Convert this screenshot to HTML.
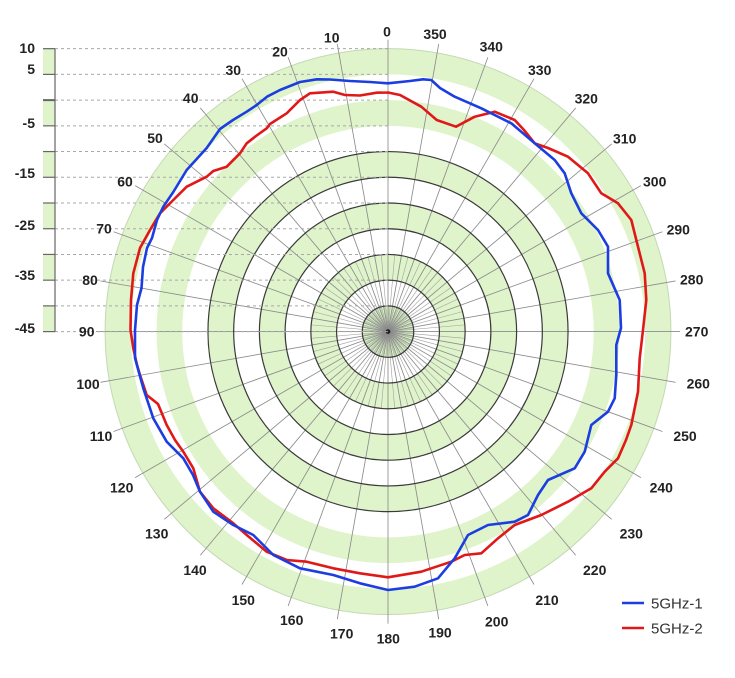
<!DOCTYPE html>
<html>
<head>
<meta charset="utf-8">
<style>
  html,body{margin:0;padding:0;background:#ffffff;}
  svg{display:block;}
  .lbl{font-family:"Liberation Sans",Arial,sans-serif;font-weight:bold;font-size:14px;fill:#222;text-anchor:middle;}
  .ax{font-family:"Liberation Sans",Arial,sans-serif;font-weight:bold;font-size:14px;fill:#222;text-anchor:end;}
  .leg{font-family:"Liberation Sans",Arial,sans-serif;font-size:15px;fill:#333;}
</style>
</head>
<body>
<svg width="735" height="678" viewBox="0 0 735 678" xmlns="http://www.w3.org/2000/svg">
  <rect x="0" y="0" width="735" height="678" fill="#ffffff"/>

  <!-- left axis green blocks -->
  <g fill="#dff4cb">
    <rect x="43" y="48.68" width="12" height="25.72"/>
    <rect x="43" y="100.12" width="12" height="25.72"/>
    <rect x="43" y="151.56" width="12" height="25.72"/>
    <rect x="43" y="203.0" width="12" height="25.72"/>
    <rect x="43" y="254.44" width="12" height="25.72"/>
    <rect x="43" y="305.88" width="12" height="25.72"/>
  </g>

  <!-- polar bands -->
  <g transform="translate(388,331.6)">
    <circle r="282.92" fill="#dff4cb" stroke="#c3d9b3" stroke-width="1"/>
    <circle r="257.2" fill="#ffffff"/>
    <circle r="231.48" fill="#dff4cb"/>
    <circle r="205.76" fill="#ffffff"/>
    <circle r="180.04" fill="#dff4cb"/>
    <circle r="154.32" fill="#ffffff"/>
    <circle r="128.6" fill="#dff4cb"/>
    <circle r="102.88" fill="#ffffff"/>
    <circle r="77.16" fill="#dff4cb"/>
    <circle r="51.44" fill="#ffffff"/>
    <circle r="25.72" fill="#dff4cb"/>

    <!-- dense inner spokes -->
    <g stroke="#98c084" stroke-width="0.45">
      <line x1="0" y1="-25.72" x2="0" y2="25.72" transform="rotate(2.5)"/>
      <line x1="0" y1="-25.72" x2="0" y2="25.72" transform="rotate(12.5)"/>
      <line x1="0" y1="-25.72" x2="0" y2="25.72" transform="rotate(22.5)"/>
      <line x1="0" y1="-25.72" x2="0" y2="25.72" transform="rotate(32.5)"/>
      <line x1="0" y1="-25.72" x2="0" y2="25.72" transform="rotate(42.5)"/>
      <line x1="0" y1="-25.72" x2="0" y2="25.72" transform="rotate(52.5)"/>
      <line x1="0" y1="-25.72" x2="0" y2="25.72" transform="rotate(62.5)"/>
      <line x1="0" y1="-25.72" x2="0" y2="25.72" transform="rotate(72.5)"/>
      <line x1="0" y1="-25.72" x2="0" y2="25.72" transform="rotate(82.5)"/>
      <line x1="0" y1="-25.72" x2="0" y2="25.72" transform="rotate(92.5)"/>
      <line x1="0" y1="-25.72" x2="0" y2="25.72" transform="rotate(102.5)"/>
      <line x1="0" y1="-25.72" x2="0" y2="25.72" transform="rotate(112.5)"/>
      <line x1="0" y1="-25.72" x2="0" y2="25.72" transform="rotate(122.5)"/>
      <line x1="0" y1="-25.72" x2="0" y2="25.72" transform="rotate(132.5)"/>
      <line x1="0" y1="-25.72" x2="0" y2="25.72" transform="rotate(142.5)"/>
      <line x1="0" y1="-25.72" x2="0" y2="25.72" transform="rotate(152.5)"/>
      <line x1="0" y1="-25.72" x2="0" y2="25.72" transform="rotate(162.5)"/>
      <line x1="0" y1="-25.72" x2="0" y2="25.72" transform="rotate(172.5)"/>
    </g>
    <!-- 5 degree spokes in inner rings -->
    <g stroke="#a0a0a0" stroke-width="0.6">
      <line x1="0" y1="-77.16" x2="0" y2="77.16" transform="rotate(5)"/>
      <line x1="0" y1="-77.16" x2="0" y2="77.16" transform="rotate(15)"/>
      <line x1="0" y1="-77.16" x2="0" y2="77.16" transform="rotate(25)"/>
      <line x1="0" y1="-77.16" x2="0" y2="77.16" transform="rotate(35)"/>
      <line x1="0" y1="-77.16" x2="0" y2="77.16" transform="rotate(45)"/>
      <line x1="0" y1="-77.16" x2="0" y2="77.16" transform="rotate(55)"/>
      <line x1="0" y1="-77.16" x2="0" y2="77.16" transform="rotate(65)"/>
      <line x1="0" y1="-77.16" x2="0" y2="77.16" transform="rotate(75)"/>
      <line x1="0" y1="-77.16" x2="0" y2="77.16" transform="rotate(85)"/>
      <line x1="0" y1="-77.16" x2="0" y2="77.16" transform="rotate(95)"/>
      <line x1="0" y1="-77.16" x2="0" y2="77.16" transform="rotate(105)"/>
      <line x1="0" y1="-77.16" x2="0" y2="77.16" transform="rotate(115)"/>
      <line x1="0" y1="-77.16" x2="0" y2="77.16" transform="rotate(125)"/>
      <line x1="0" y1="-77.16" x2="0" y2="77.16" transform="rotate(135)"/>
      <line x1="0" y1="-77.16" x2="0" y2="77.16" transform="rotate(145)"/>
      <line x1="0" y1="-77.16" x2="0" y2="77.16" transform="rotate(155)"/>
      <line x1="0" y1="-77.16" x2="0" y2="77.16" transform="rotate(165)"/>
      <line x1="0" y1="-77.16" x2="0" y2="77.16" transform="rotate(175)"/>
    </g>
    <!-- 10 degree spokes -->
    <g stroke="#8c8c8c" stroke-width="0.85">
      <line x1="0" y1="-292" x2="0" y2="292" transform="rotate(0)"/>
      <line x1="0" y1="-292" x2="0" y2="292" transform="rotate(10)"/>
      <line x1="0" y1="-292" x2="0" y2="292" transform="rotate(20)"/>
      <line x1="0" y1="-292" x2="0" y2="292" transform="rotate(30)"/>
      <line x1="0" y1="-292" x2="0" y2="292" transform="rotate(40)"/>
      <line x1="0" y1="-292" x2="0" y2="292" transform="rotate(50)"/>
      <line x1="0" y1="-292" x2="0" y2="292" transform="rotate(60)"/>
      <line x1="0" y1="-292" x2="0" y2="292" transform="rotate(70)"/>
      <line x1="0" y1="-292" x2="0" y2="292" transform="rotate(80)"/>
      <line x1="0" y1="-292" x2="0" y2="292" transform="rotate(90)"/>
      <line x1="0" y1="-292" x2="0" y2="292" transform="rotate(100)"/>
      <line x1="0" y1="-292" x2="0" y2="292" transform="rotate(110)"/>
      <line x1="0" y1="-292" x2="0" y2="292" transform="rotate(120)"/>
      <line x1="0" y1="-292" x2="0" y2="292" transform="rotate(130)"/>
      <line x1="0" y1="-292" x2="0" y2="292" transform="rotate(140)"/>
      <line x1="0" y1="-292" x2="0" y2="292" transform="rotate(150)"/>
      <line x1="0" y1="-292" x2="0" y2="292" transform="rotate(160)"/>
      <line x1="0" y1="-292" x2="0" y2="292" transform="rotate(170)"/>
    </g>
    <!-- dark rings -->
    <g fill="none" stroke="#3a3a3a" stroke-width="1.2">
      <circle r="25.72"/>
      <circle r="51.44"/>
      <circle r="77.16"/>
      <circle r="102.88"/>
      <circle r="128.6"/>
      <circle r="154.32"/>
      <circle r="180.04"/>
    </g>
    <circle r="2.4" fill="#222"/>
  </g>

  <!-- dashed level lines -->
  <g stroke="#a8a8a8" stroke-width="1" stroke-dasharray="3,3">
    <line x1="55" y1="48.68" x2="388" y2="48.68"/>
    <line x1="55" y1="74.4" x2="388" y2="74.4"/>
    <line x1="55" y1="100.12" x2="388" y2="100.12"/>
    <line x1="55" y1="125.84" x2="388" y2="125.84"/>
    <line x1="55" y1="151.56" x2="388" y2="151.56"/>
    <line x1="55" y1="177.28" x2="388" y2="177.28"/>
    <line x1="55" y1="203.0" x2="388" y2="203.0"/>
    <line x1="55" y1="228.72" x2="388" y2="228.72"/>
    <line x1="55" y1="254.44" x2="388" y2="254.44"/>
    <line x1="55" y1="280.16" x2="388" y2="280.16"/>
    <line x1="55" y1="305.88" x2="388" y2="305.88"/>
    <line x1="55" y1="331.6" x2="388" y2="331.6"/>
  </g>

  <!-- left axis -->
  <g stroke="#666" stroke-width="1.2">
    <line x1="55" y1="48.68" x2="55" y2="331.6"/>
    <line x1="43" y1="48.68" x2="55" y2="48.68"/>
    <line x1="43" y1="74.4" x2="55" y2="74.4"/>
    <line x1="43" y1="100.12" x2="55" y2="100.12" stroke-width="2"/>
    <line x1="43" y1="125.84" x2="55" y2="125.84"/>
    <line x1="43" y1="151.56" x2="55" y2="151.56"/>
    <line x1="43" y1="177.28" x2="55" y2="177.28"/>
    <line x1="43" y1="203.0" x2="55" y2="203.0"/>
    <line x1="43" y1="228.72" x2="55" y2="228.72"/>
    <line x1="43" y1="254.44" x2="55" y2="254.44"/>
    <line x1="43" y1="280.16" x2="55" y2="280.16"/>
    <line x1="43" y1="305.88" x2="55" y2="305.88"/>
    <line x1="43" y1="331.6" x2="55" y2="331.6"/>
  </g>
  <text class="ax" x="35" y="53">10</text>
  <text class="ax" x="35" y="74">5</text>
  <text class="ax" x="35" y="128">-5</text>
  <text class="ax" x="35" y="178">-15</text>
  <text class="ax" x="35" y="230">-25</text>
  <text class="ax" x="35" y="280">-35</text>
  <text class="ax" x="35" y="333">-45</text>

  <!-- 5GHz-2 (red) -->
  <polyline fill="none" stroke="#e01818" stroke-width="2.6" stroke-linejoin="round" stroke-linecap="round"
    points="388,92.5 376.7,92.7 360,95.5 345,95 333.3,91.7 310,93.3 300,100 286.7,113.3 270,124 266.7,128.3 256,136 246.7,143.3 240,153.3 226.7,166.7 213.3,171 206.7,176.7 186.7,186.7 173.3,200 160,213.3 150,230 140,248 133.3,273.3 131,300 130.5,330 133.3,348.3 137,365 140,375 146.7,395 158,404 166.7,425 175,440 183.3,451.7 193.3,468.3 200,491.7 213.3,508.3 233.3,523.3 246.7,535 266.7,551.7 286.7,560 306.7,561.7 333.3,568.3 360,573.3 388,577.3 421.3,571.7 451.3,561.7 464.7,555 481.3,553.3 498,538.3 514.7,525 541.3,515 568,501.7 591.3,488.3 604.7,471.7 618,458.3 626,440 631.3,425 638,391.7 639.7,358.3 643,330 646.3,300 644.7,273.3 638,246.7 631.3,220 618,203.3 601.3,193.3 588,173.3 568,156.7 548,148 534.7,143.3 524,130 514.7,120 494.7,111.7 474.7,116.7 456,126.7 436.7,120 421.3,106.7 400,95 388,92.5"/>

  <!-- 5GHz-1 (blue) -->
  <polyline fill="none" stroke="#1c3ee0" stroke-width="2.6" stroke-linejoin="round" stroke-linecap="round"
    points="388,83.3 370,82 350,81 330,79.5 317,79.3 300,82 280,90 267,96.7 256.7,105 246.7,111.7 233,120 220,129 206.7,148 186.7,170 173.3,192 163.3,206.7 157,220 152,238 147,248 143,267 141.5,288 137,305 135,330 135,358 143.3,388.3 153.3,418.3 166.7,441.7 183.3,458.3 193,475 200,491.7 213.3,511.7 233.3,525 253.3,535 273.3,555 300,568.3 333.3,575 360,583.3 388,590 414.7,586.7 438,578.3 454.7,558.3 468,535 488,525 514.7,521.7 528,515 538,495 548,480 574.7,468.3 584.7,451.7 591.3,425 608,411.7 614.7,398.3 616.3,375 616.3,345 621,328 619.7,300 608,273.3 608,246.7 598,230 581.3,213.3 571.3,193.3 564.7,173.3 554.7,160 534.7,143.3 511.3,123.3 481.3,108.3 454.7,96.7 440,88 431.3,80 423,79.3 410,81 388,83.3"/>

  <!-- angle labels -->
  <text class="lbl" x="387" y="36.5">0</text>
  <text class="lbl" x="331.7" y="42.3">10</text>
  <text class="lbl" x="280" y="56.7">20</text>
  <text class="lbl" x="233.3" y="75">30</text>
  <text class="lbl" x="190.7" y="103">40</text>
  <text class="lbl" x="155" y="143">50</text>
  <text class="lbl" x="125" y="186.7">60</text>
  <text class="lbl" x="104" y="233.5">70</text>
  <text class="lbl" x="90" y="285">80</text>
  <text class="lbl" x="86.7" y="336.7">90</text>
  <text class="lbl" x="88" y="389">100</text>
  <text class="lbl" x="101" y="441">110</text>
  <text class="lbl" x="121.7" y="492.7">120</text>
  <text class="lbl" x="156.7" y="538.3">130</text>
  <text class="lbl" x="195" y="575">140</text>
  <text class="lbl" x="243.3" y="605">150</text>
  <text class="lbl" x="291.7" y="625">160</text>
  <text class="lbl" x="341.7" y="638.3">170</text>
  <text class="lbl" x="388.3" y="643.3">180</text>
  <text class="lbl" x="440" y="637.7">190</text>
  <text class="lbl" x="496.7" y="626.7">200</text>
  <text class="lbl" x="547" y="605">210</text>
  <text class="lbl" x="594.7" y="575">220</text>
  <text class="lbl" x="631.3" y="538.3">230</text>
  <text class="lbl" x="661.3" y="492.7">240</text>
  <text class="lbl" x="685" y="441">250</text>
  <text class="lbl" x="698.3" y="388.3">260</text>
  <text class="lbl" x="696.7" y="336.7">270</text>
  <text class="lbl" x="691.7" y="284.3">280</text>
  <text class="lbl" x="678.3" y="234.3">290</text>
  <text class="lbl" x="654.7" y="186.7">300</text>
  <text class="lbl" x="624.7" y="143.3">310</text>
  <text class="lbl" x="586.3" y="103.3">320</text>
  <text class="lbl" x="539.7" y="75">330</text>
  <text class="lbl" x="491.3" y="51.7">340</text>
  <text class="lbl" x="435" y="39">350</text>

  <!-- legend -->
  <line x1="622" y1="603" x2="644" y2="603" stroke="#1c3ee0" stroke-width="2.4"/>
  <text class="leg" x="651" y="608.5">5GHz-1</text>
  <line x1="622" y1="628" x2="644" y2="628" stroke="#e01818" stroke-width="2.4"/>
  <text class="leg" x="651" y="633.5">5GHz-2</text>
</svg>
</body>
</html>
